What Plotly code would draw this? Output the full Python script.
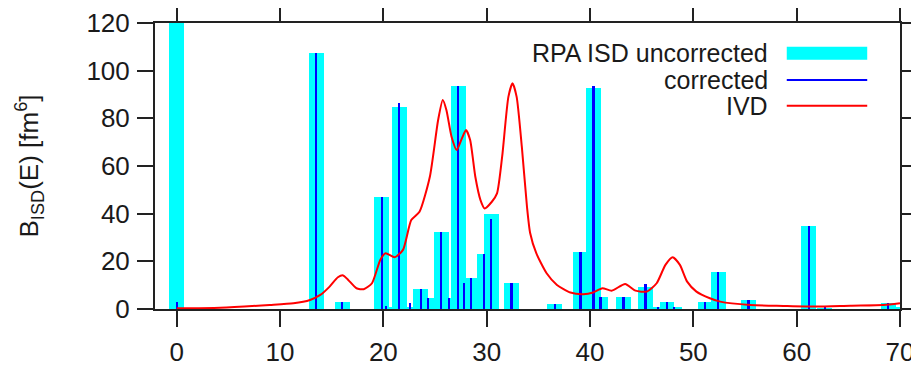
import plotly.graph_objects as go

# ---- data ----
energies = [0.0, 13.5, 16.0, 19.85, 20.26, 21.54, 22.58, 23.64, 24.35, 25.58, 26.38,
            27.25, 27.83, 28.48, 29.77, 30.42, 32.4, 36.6, 39.08, 40.34, 41.01, 43.24,
            45.37, 46.61, 47.45, 48.13, 51.13, 52.39, 55.34, 61.19, 62.74, 68.87, 70.3]
b_uncorrected = [125.0, 107.5, 2.8, 46.9, 0.5, 84.6, 0.5, 8.5, 4.7, 32.3, 4.7,
                 93.7, 11.0, 12.9, 23.0, 39.7, 11.0, 2.0, 24.1, 92.9, 4.9, 4.9,
                 9.4, 1.0, 3.1, 1.0, 3.1, 15.7, 3.8, 35.0, 0.3, 2.4, 1.0]
b_corrected = [3.0, 107.5, 2.8, 46.9, 1.2, 86.3, 2.6, 8.5, 4.7, 32.3, 4.7,
               93.7, 11.0, 12.9, 23.0, 37.6, 11.0, 2.0, 24.1, 93.7, 4.9, 4.9,
               10.3, 1.0, 3.1, 1.0, 3.1, 15.7, 3.8, 35.0, 0.5, 2.4, 0.0]

ivd_E = [0, 4.2, 9.0, 11.3, 12.9, 13.9, 14.8, 15.6, 16.1, 16.6, 17.4, 18.1, 18.9,
         19.7, 20.2, 21.1, 21.9, 22.7, 23.5, 24.5, 25.3, 25.75, 26.1, 26.6, 27.1,
         27.6, 28.0, 28.4, 28.9, 29.4, 29.8, 30.5, 31.0, 31.5, 32.1, 32.5, 32.9,
         33.4, 33.9, 34.2, 34.8, 35.8, 36.8, 38.1, 39.35, 40.3, 41.2, 42.1, 43.4,
         44.4, 45.5, 46.45, 47.3, 48.0, 48.7, 49.4, 50.3, 51.6, 52.6, 55.5, 58.7,
         61.9, 65.2, 68.4, 70.0]
ivd_B = [0.3, 0.55, 1.7, 2.4, 3.8, 5.9, 9.4, 13.3, 14.1, 12.2, 8.7, 8.3, 10.8,
         20.6, 23.4, 21.7, 24.8, 37.3, 40.8, 55.5, 79.3, 87.7, 83.5, 72.3, 66.7,
         71.6, 75.1, 70.9, 55.5, 45.7, 42.2, 45.0, 48.5, 64.0, 89.0, 94.7, 89.0,
         68.1, 42.9, 32.0, 23.4, 15.0, 10.1, 6.9, 6.2, 6.9, 8.7, 7.7, 10.5,
         7.7, 7.3, 10.8, 18.5, 21.7, 18.5, 11.5, 7.3, 4.5, 3.1, 1.7, 1.3,
         1.0, 1.4, 1.7, 2.4]

x_ticks = [0, 10, 20, 30, 40, 50, 60, 70]
y_ticks = [0, 20, 40, 60, 80, 100, 120]
legend_labels = ["RPA ISD uncorrected", "corrected", "IVD"]

CYAN = "#00ffff"
BLUE = "#0000ff"
RED = "#ff0000"
FONT = "Liberation Sans, Arial, sans-serif"
AX = "#222222"
TXT = "#1a1a1a"
FS = 26

fig = go.Figure()
fig.add_trace(go.Bar(x=energies, y=b_uncorrected, width=1.45,
                     marker=dict(color=CYAN, line=dict(width=0)), showlegend=False))
fig.add_trace(go.Bar(x=energies, y=b_corrected, width=0.22,
                     marker=dict(color=BLUE, line=dict(width=0)), showlegend=False))
fig.add_trace(go.Scatter(x=ivd_E, y=ivd_B, mode="lines",
                         line=dict(color=RED, width=2, shape="spline", smoothing=0.6),
                         showlegend=False))

# manual legend (text left, sample right as in the reference)
rows = [0.894, 0.801, 0.711]
styles = [(CYAN, 13), (BLUE, 2), (RED, 2)]
for lab, yy, (col, w) in zip(legend_labels, rows, styles):
    fig.add_annotation(x=0.8255, y=yy, xref="paper", yref="paper", text=lab,
                       showarrow=False, xanchor="right", yanchor="middle",
                       font=dict(family=FONT, size=25, color=TXT))
    fig.add_shape(type="line", xref="paper", yref="paper", x0=0.848, x1=0.956,
                  y0=yy, y1=yy, line=dict(color=col, width=w))

axis_common = dict(showline=True, linecolor=AX, linewidth=2, mirror="ticks",
                   ticks="outside", ticklen=16, tickwidth=2, tickcolor=AX,
                   showgrid=False, zeroline=False,
                   tickfont=dict(family=FONT, size=FS, color=TXT))

# the page body adds an 8px offset, so the figure is 8px smaller than the window
fig.update_layout(
    width=911, height=358,
    margin=dict(l=147, r=19, t=15, b=57, autoexpand=False),
    paper_bgcolor="white", plot_bgcolor="white",
    barmode="overlay", bargap=0,
    xaxis=dict(range=[-2.1, 70.0], tickvals=x_ticks, ticklabelstandoff=3, **axis_common),
    yaxis=dict(range=[0, 120], tickvals=y_ticks, ticklabelstandoff=2,
               title=dict(text="B<sub>ISD</sub>(E) [fm<sup>6</sup>]",
                          font=dict(family=FONT, size=FS, color=TXT), standoff=40),
               **axis_common),
)

fig.write_html("out.html")
